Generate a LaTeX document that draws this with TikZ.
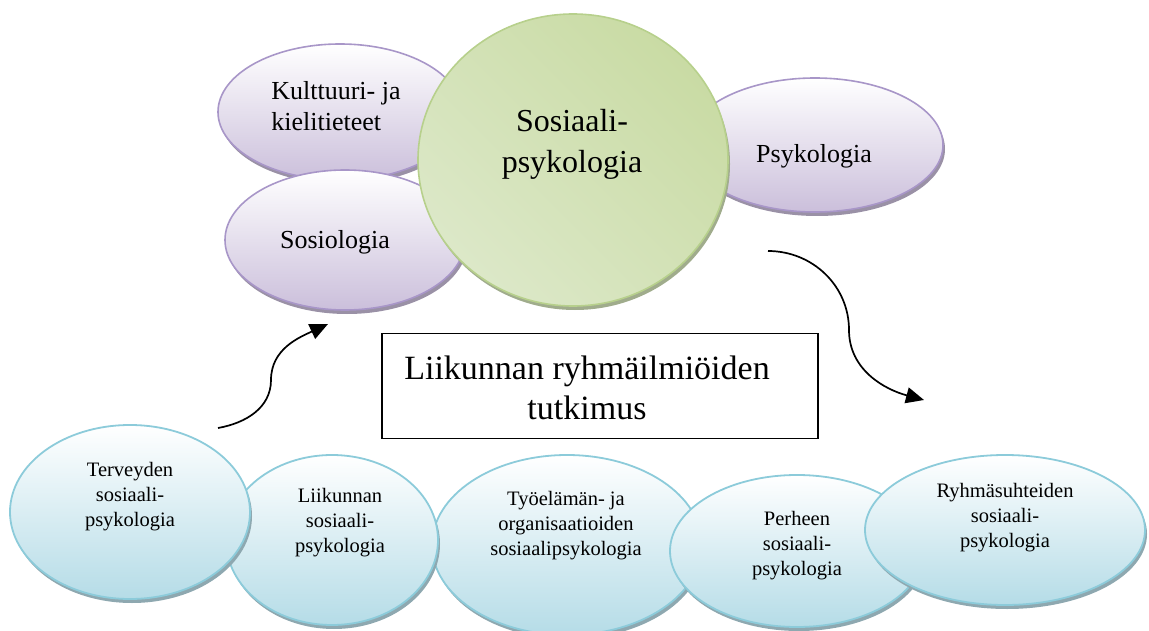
\documentclass[tikz,border=0pt]{standalone}
\usepackage{fontspec}
\setmainfont{Liberation Serif}
\usepackage{tikz}
\usetikzlibrary{shapes,arrows.meta,shadows}

\definecolor{fieldline}{HTML}{A896C8}
\definecolor{fieldfill}{HTML}{CBBFDB}
\definecolor{fieldrim}{HTML}{9A91A6}
\definecolor{subline}{HTML}{8CCBDA}
\definecolor{subfill}{HTML}{B5DCE7}
\definecolor{subrim}{HTML}{8EA8B0}
\definecolor{coreline}{HTML}{B7D08C}
\definecolor{coredark}{HTML}{C9DBA4}
\definecolor{corelight}{HTML}{EEF4E4}
\definecolor{coremid}{HTML}{DCE8C8}
\definecolor{corerim}{HTML}{A0AC8C}

\tikzstyle{field} =
        [
                ellipse,
                draw = fieldline,
                line width = 1.6pt,
                top color = white,
                middle color = fieldfill!55,
                bottom color = fieldfill,
                drop shadow = {shadow xshift = 2pt, shadow yshift = -4pt, fill = fieldrim, opacity = 1}
        ]
\tikzstyle{subfield} =
        [
                ellipse,
                draw = subline,
                line width = 1.8pt,
                top color = white,
                middle color = subfill!60,
                bottom color = subfill,
                drop shadow = {shadow xshift = 2pt, shadow yshift = -4pt, fill = subrim, opacity = 1}
        ]
\tikzstyle{core} =
        [
                ellipse,
                draw = coreline,
                line width = 1.6pt,
                top color = coredark,
                middle color = corelight,
                bottom color = coremid,
                shading angle = -45,
                drop shadow = {shadow xshift = 2pt, shadow yshift = -4pt, fill = corerim, opacity = 1}
        ]
\tikzstyle{frame} =
        [
                rectangle,
                draw,
                line width = 1.4pt,
                minimum width = 436pt,
                minimum height = 105pt
        ]
\tikzstyle{fieldtext} =
        [
                align = center,
                font = \fontsize{26}{31}\selectfont
        ]
\tikzstyle{subtext} =
        [
                align = center,
                font = \fontsize{20.5}{25}\selectfont
        ]
\tikzstyle{link} =
        [
                line width = 1.7pt,
                -{Triangle[length = 18pt, width = 16pt]}
        ]

\begin{document}
\begin{tikzpicture}[x = 1pt, y = -1pt]
    \useasboundingbox (0,0) rectangle (1149,631);
    % upper group
    \node [field, minimum width = 244pt, minimum height = 136pt] (kulttuuri) at (340,112) {};
    \node [field, minimum width = 240pt, minimum height = 140pt] (sosiologia) at (345,240) {};
    \node [field, minimum width = 256pt, minimum height = 134pt] (psykologia) at (815,145) {};
    \node [core, minimum width = 310pt, minimum height = 292pt] (sospsyk) at (573,160) {};
    \node [fieldtext, align = left] (kulttuuri-text) at (336,106) {Kulttuuri- ja\\kielitieteet};
    \node [fieldtext] (sosiologia-text) at (335,242) {Sosiologia};
    \node [fieldtext] (psykologia-text) at (814,156) {Psykologia};
    \node [align = center, font = \fontsize{32}{41}\selectfont] (sospsyk-text) at (572,144) {Sosiaali-\\psykologia};
    % box
    \node [frame] (tutkimus) at (600,386) {};
    \node [align = center, font = \fontsize{34}{40}\selectfont] (tutkimus-text) at (587,388) {Liikunnan ryhmäilmiöiden\\tutkimus};
    % lower group
    \node [subfield, minimum width = 270pt, minimum height = 180pt] (tyoelama) at (567,545) {};
    \node [subfield, minimum width = 212pt, minimum height = 170pt] (liikunta) at (332,540) {};
    \node [subfield, minimum width = 240pt, minimum height = 174pt] (terveys) at (130,512) {};
    \node [subfield, minimum width = 254pt, minimum height = 152pt] (perhe) at (797,551) {};
    \node [subfield, minimum width = 280pt, minimum height = 150pt] (ryhma) at (1005,530) {};
    \node [subtext] (terveys-text) at (130,497) {Terveyden\\sosiaali-\\psykologia};
    \node [subtext] (liikunta-text) at (340,523) {Liikunnan\\sosiaali-\\psykologia};
    \node [subtext] (tyoelama-text) at (566,526) {Työelämän- ja\\organisaatioiden\\sosiaalipsykologia};
    \node [subtext] (perhe-text) at (797,546) {Perheen\\sosiaali-\\psykologia};
    \node [subtext] (ryhma-text) at (1005,518) {Ryhmäsuhteiden\\sosiaali-\\psykologia};
    % arrows
    \coordinate (up-start) at (218,428);
    \coordinate (up-mid) at (271,380);
    \coordinate (up-end) at (328,324);
    \coordinate (down-start) at (768,251);
    \coordinate (down-mid) at (849,330);
    \coordinate (down-end) at (924,400);
    \draw [link] (up-start) to [out = 10, in = -90] (up-mid) to [out = 90, in = 205] (up-end);
    \draw [link] (down-start) to [out = 0, in = 90] (down-mid) to [out = -90, in = 165] (down-end);
\end{tikzpicture}
\end{document}
